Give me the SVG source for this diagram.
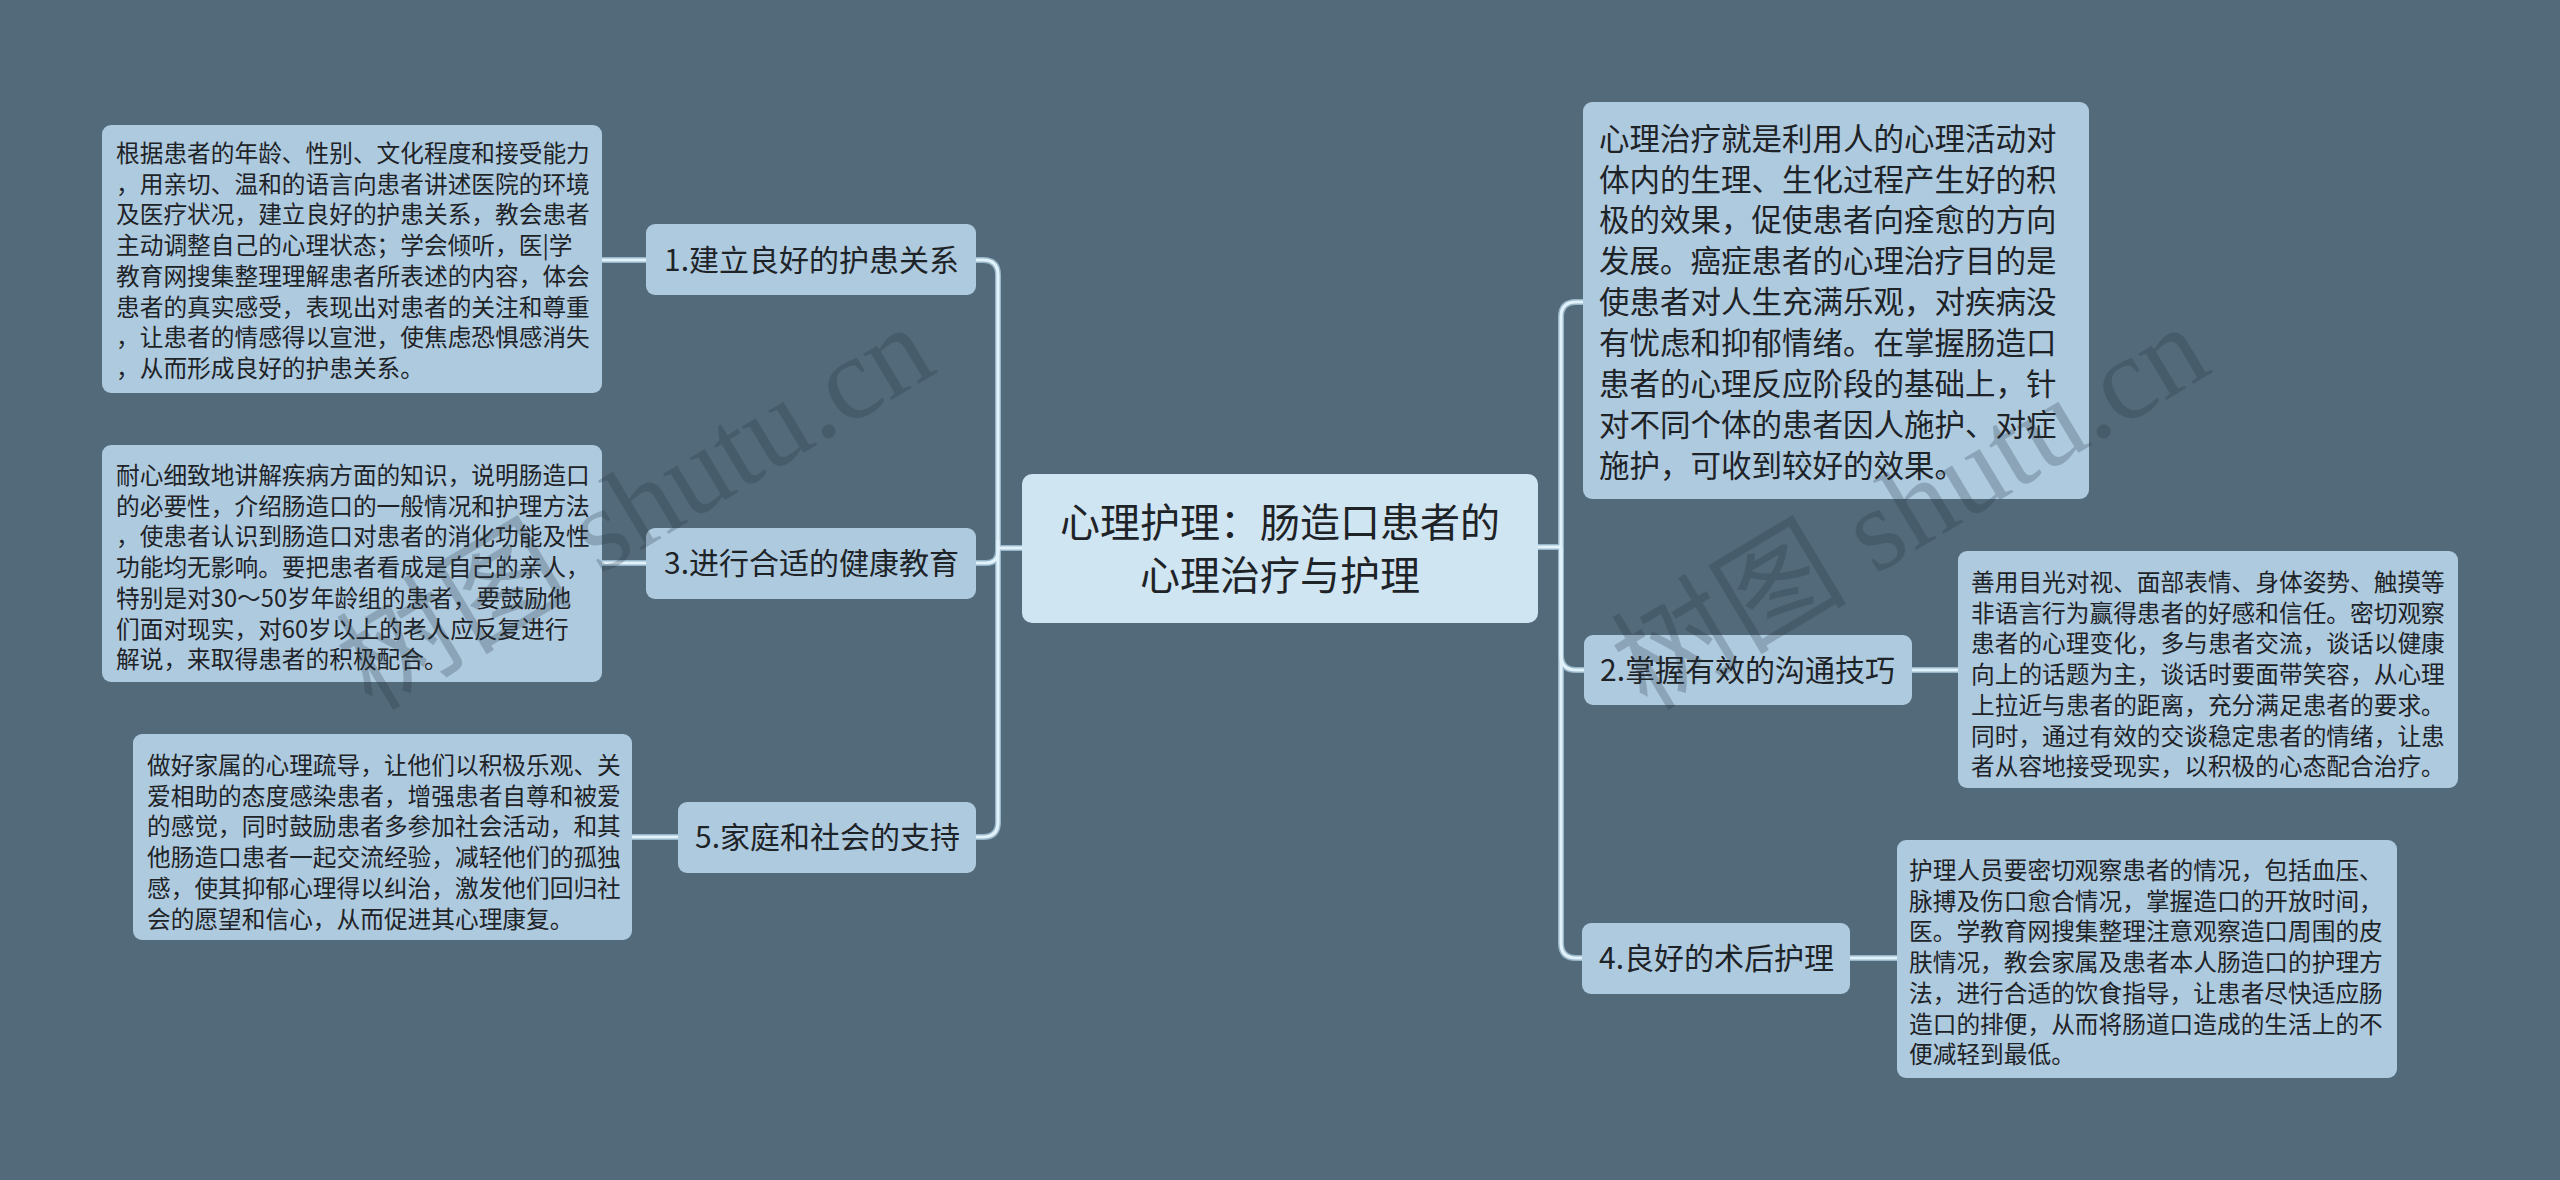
<svg xmlns="http://www.w3.org/2000/svg" width="2560" height="1180" viewBox="0 0 2560 1180">
<style>
.bg{fill:#536a7a}
.box{fill:#aecadf}
.center{fill:#cfe5f2}
.t{font-family:"Noto Sans CJK SC","Noto Sans",sans-serif;fill:#1e2327}
.leaf{font-size:23.7px}
.br{font-size:30px}
.main{font-size:40px}
.top{font-size:30.5px}
.lo{fill:none;stroke:#98b6c9;stroke-width:6}
.li{fill:none;stroke:#e1f2fb;stroke-width:3.2}
.wm{font-family:"Liberation Serif","Noto Sans CJK SC",serif;font-size:118px;fill:#263642;opacity:.25}
</style>
<defs>
<g id="paths">
<path d="M1022,548 H998"/>
<path d="M998,548 V275 Q998,260 983,260 H976"/>
<path d="M998,540 V551 Q998,563 986,563 H976"/>
<path d="M998,548 V822 Q998,837 983,837 H976"/>
<path d="M646,260 H602"/>
<path d="M646,563 H602"/>
<path d="M678,837 H632"/>
<path d="M1538,547 H1561"/>
<path d="M1561,547 V317 Q1561,302 1576,302 H1583"/>
<path d="M1561,547 V655 Q1561,670 1576,670 H1584"/>
<path d="M1561,547 V943 Q1561,958 1576,958 H1582"/>
<path d="M1912,670 H1958"/>
<path d="M1850,958 H1897"/>
</g>
</defs>
<rect class="bg" x="0" y="0" width="2560" height="1180"/>
<g id="connectors">
<use href="#paths" class="lo"/>
<use href="#paths" class="li"/>
</g>
<g id="center">
<rect class="center" x="1022" y="474" width="516" height="149" rx="10"/>
<text class="t main" text-anchor="middle" x="1280" y="537">心理护理：肠造口患者的<tspan x="1280" y="590">心理治疗与护理</tspan></text>
</g>
<g id="b1">
<rect class="box" x="646" y="224" width="330" height="71" rx="9"/>
<text class="t br" x="664" y="271.4">1.建立良好的护患关系</text>
</g>
<g id="b3">
<rect class="box" x="646" y="528" width="330" height="71" rx="9"/>
<text class="t br" x="664" y="574.4">3.进行合适的健康教育</text>
</g>
<g id="b5">
<rect class="box" x="678" y="802" width="298" height="71" rx="9"/>
<text class="t br" x="695" y="848.4">5.家庭和社会的支持</text>
</g>
<g id="b2">
<rect class="box" x="1584" y="635" width="328" height="70" rx="9"/>
<text class="t br" x="1600" y="681.4">2.掌握有效的沟通技巧</text>
</g>
<g id="b4">
<rect class="box" x="1582" y="923" width="268" height="71" rx="9"/>
<text class="t br" x="1599" y="969.4">4.良好的术后护理</text>
</g>
<g id="n-top">
<rect class="box" x="1583" y="102" width="506" height="397" rx="9"/>
<text class="t top" x="1599" y="149.6">心理治疗就是利用人的心理活动对<tspan x="1599" dy="40.9">体内的生理、生化过程产生好的积</tspan><tspan x="1599" dy="40.9">极的效果，促使患者向痊愈的方向</tspan><tspan x="1599" dy="40.9">发展。癌症患者的心理治疗目的是</tspan><tspan x="1599" dy="40.9">使患者对人生充满乐观，对疾病没</tspan><tspan x="1599" dy="40.9">有忧虑和抑郁情绪。在掌握肠造口</tspan><tspan x="1599" dy="40.9">患者的心理反应阶段的基础上，针</tspan><tspan x="1599" dy="40.9">对不同个体的患者因人施护、对症</tspan><tspan x="1599" dy="40.9">施护，可收到较好的效果。</tspan></text>
</g>
<g id="leaf1">
<rect class="box" x="102" y="125" width="500" height="268" rx="9"/>
<text class="t leaf" x="116" y="162">根据患者的年龄、性别、文化程度和接受能力<tspan x="116" dy="30.7">，用亲切、温和的语言向患者讲述医院的环境</tspan><tspan x="116" dy="30.7">及医疗状况，建立良好的护患关系，教会患者</tspan><tspan x="116" dy="30.7">主动调整自己的心理状态；学会倾听，医|学</tspan><tspan x="116" dy="30.7">教育网搜集整理理解患者所表述的内容，体会</tspan><tspan x="116" dy="30.7">患者的真实感受，表现出对患者的关注和尊重</tspan><tspan x="116" dy="30.7">，让患者的情感得以宣泄，使焦虑恐惧感消失</tspan><tspan x="116" dy="30.7">，从而形成良好的护患关系。</tspan></text>
</g>
<g id="leaf3">
<rect class="box" x="102" y="445" width="500" height="237" rx="9"/>
<text class="t leaf" x="116" y="484">耐心细致地讲解疾病方面的知识，说明肠造口<tspan x="116" dy="30.7">的必要性，介绍肠造口的一般情况和护理方法</tspan><tspan x="116" dy="30.7">，使患者认识到肠造口对患者的消化功能及性</tspan><tspan x="116" dy="30.7">功能均无影响。要把患者看成是自己的亲人，</tspan><tspan x="116" dy="30.7">特别是对30～50岁年龄组的患者，要鼓励他</tspan><tspan x="116" dy="30.7">们面对现实，对60岁以上的老人应反复进行</tspan><tspan x="116" dy="30.7">解说，来取得患者的积极配合。</tspan></text>
</g>
<g id="leaf5">
<rect class="box" x="133" y="734" width="499" height="206" rx="9"/>
<text class="t leaf" x="147" y="774">做好家属的心理疏导，让他们以积极乐观、关<tspan x="147" dy="30.7">爱相助的态度感染患者，增强患者自尊和被爱</tspan><tspan x="147" dy="30.7">的感觉，同时鼓励患者多参加社会活动，和其</tspan><tspan x="147" dy="30.7">他肠造口患者一起交流经验，减轻他们的孤独</tspan><tspan x="147" dy="30.7">感，使其抑郁心理得以纠治，激发他们回归社</tspan><tspan x="147" dy="30.7">会的愿望和信心，从而促进其心理康复。</tspan></text>
</g>
<g id="leaf2">
<rect class="box" x="1958" y="551" width="500" height="237" rx="9"/>
<text class="t leaf" x="1971" y="591">善用目光对视、面部表情、身体姿势、触摸等<tspan x="1971" dy="30.7">非语言行为赢得患者的好感和信任。密切观察</tspan><tspan x="1971" dy="30.7">患者的心理变化，多与患者交流，谈话以健康</tspan><tspan x="1971" dy="30.7">向上的话题为主，谈话时要面带笑容，从心理</tspan><tspan x="1971" dy="30.7">上拉近与患者的距离，充分满足患者的要求。</tspan><tspan x="1971" dy="30.7">同时，通过有效的交谈稳定患者的情绪，让患</tspan><tspan x="1971" dy="30.7">者从容地接受现实，以积极的心态配合治疗。</tspan></text>
</g>
<g id="leaf4">
<rect class="box" x="1897" y="840" width="500" height="238" rx="9"/>
<text class="t leaf" x="1909" y="879">护理人员要密切观察患者的情况，包括血压、<tspan x="1909" dy="30.7">脉搏及伤口愈合情况，掌握造口的开放时间，</tspan><tspan x="1909" dy="30.7">医。学教育网搜集整理注意观察造口周围的皮</tspan><tspan x="1909" dy="30.7">肤情况，教会家属及患者本人肠造口的护理方</tspan><tspan x="1909" dy="30.7">法，进行合适的饮食指导，让患者尽快适应肠</tspan><tspan x="1909" dy="30.7">造口的排便，从而将肠道口造成的生活上的不</tspan><tspan x="1909" dy="30.7">便减轻到最低。</tspan></text>
</g>
<g id="watermark">
<text class="wm" x="372" y="712" transform="rotate(-31 372 712)">树图 shutu.cn</text>
<text class="wm" x="1647" y="712" transform="rotate(-31 1647 712)">树图 shutu.cn</text>
</g>
</svg>
